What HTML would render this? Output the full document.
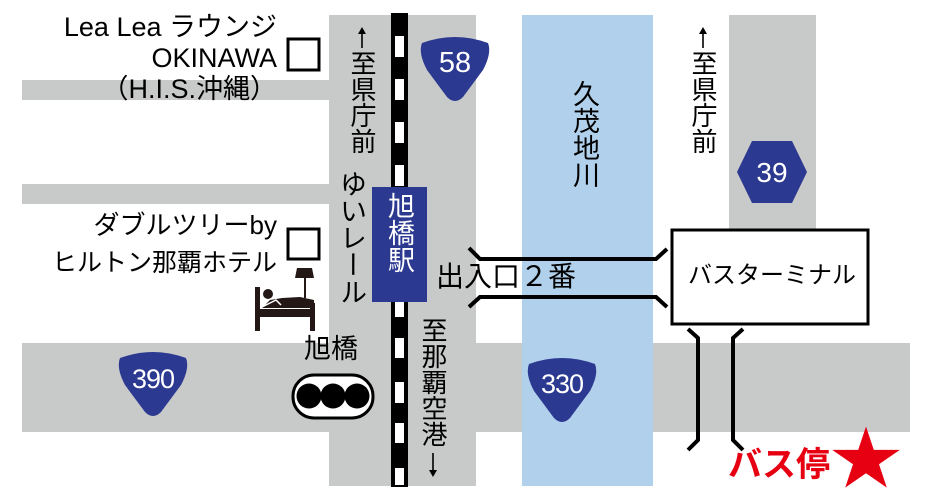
<!DOCTYPE html>
<html><head><meta charset="utf-8"><style>
body{margin:0}
#w{position:relative;width:929px;height:504px;background:#fff;overflow:hidden;font-family:"Liberation Sans","Noto Sans CJK JP",sans-serif;color:#000}
.t{position:absolute;white-space:nowrap;line-height:1}
.v{position:absolute;writing-mode:vertical-rl;line-height:1;white-space:nowrap}
svg{position:absolute;left:0;top:0}
</style></head><body><div id="w">
<svg width="929" height="504">
<defs>
<path id="sh" d="M-33,8 Q0,-4 33,8 Q37,18 28,35 L8,62 Q0,70 -8,62 L-28,35 Q-37,18 -33,8 Z"/>
</defs>
<g fill="#c8c9c9">
<rect x="22" y="80" width="310" height="20"/>
<rect x="22" y="184" width="310" height="20"/>
<rect x="329" y="15" width="147" height="471"/>
<rect x="22" y="343" width="888" height="89"/>
<rect x="729" y="15" width="87" height="214"/>
</g>
<rect x="522" y="15" width="131" height="471" fill="#b1d0eb"/>
<rect x="329" y="343" width="147" height="89" fill="#c8c9c9"/>
<rect x="653" y="343" width="257" height="89" fill="#c8c9c9"/>
<rect x="391" y="13" width="17" height="474" fill="#000"/>
<g fill="#fff">
<rect x="395" y="36" width="9" height="21"/><rect x="395" y="79" width="9" height="21"/>
<rect x="395" y="122" width="9" height="21"/><rect x="395" y="165" width="9" height="21"/>
<rect x="395" y="302" width="9" height="15"/><rect x="395" y="338" width="9" height="20"/>
<rect x="395" y="382" width="9" height="21"/><rect x="395" y="423" width="9" height="20"/>
<rect x="395" y="468" width="9" height="17"/>
</g>
<rect x="372" y="187" width="55" height="115" fill="#2b3990"/>
<g fill="#2b3990">
<use href="#sh" transform="translate(455,35)"/>
<use href="#sh" transform="translate(153,350)"/>
<use href="#sh" transform="translate(562,356)"/>
<polygon points="737,172 752,141 792,141 807,172 792,203 752,203"/>
</g>
<g fill="#fff" font-family="Liberation Sans" text-anchor="middle">
<text x="455" y="72" font-size="29">58</text>
<text x="153" y="388" font-size="27" letter-spacing="-1">390</text>
<text x="562" y="393" font-size="27" letter-spacing="-1">330</text>
<text x="772" y="182" font-size="28">39</text>
</g>
<g fill="none" stroke="#000" stroke-width="3">
<rect x="288" y="39" width="31" height="31"/>
<rect x="288" y="229" width="31" height="30"/>
<rect x="672" y="230" width="196" height="94" fill="#fff"/>
</g>
<g fill="none" stroke="#000" stroke-width="4">
<polyline points="469,248 480,259 656,259 667,249"/>
<polyline points="469,307 480,297 656,297 667,307"/>
<polyline points="688,329 698,338 698,440 688,450"/>
<polyline points="743,329 733,338 733,440 743,450"/>
</g>
<rect x="293" y="375" width="80" height="43" rx="21" fill="#fff" stroke="#000" stroke-width="3"/>
<circle cx="309" cy="396" r="12.5"/><circle cx="333" cy="396" r="12.5"/><circle cx="357" cy="396" r="12.5"/>
<g fill="#231815">
<polygon points="297,268 312,268 314,278 295,278"/>
<rect x="304" y="278" width="2" height="20"/>
<rect x="255" y="287" width="5" height="44"/>
<rect x="255" y="309" width="60" height="8"/>
<rect x="310" y="303" width="5" height="28"/>
<circle cx="268" cy="294" r="5"/>
<path d="M270 300 L282 298 L300 297 L314 300 L314 308 L262 308 Z"/>
</g>
<path d="M262 307 L276 300 L281 305" fill="none" stroke="#fff" stroke-width="1.5"/>
<g stroke="#000" stroke-width="1.6" fill="#000">
<line x1="362" y1="30" x2="362" y2="48"/><polygon points="358,34 366,34 362,27" stroke="none"/>
<line x1="703" y1="30" x2="703" y2="48"/><polygon points="699,34 707,34 703,27" stroke="none"/>
<line x1="433" y1="453" x2="433" y2="474"/><polygon points="429,470 437,470 433,477" stroke="none"/>
</g>
<polygon fill="#e60012" transform="translate(866,459) scale(1.3) translate(-865,-459)" points="865,434 871,452 891,452 875,463 881,481 865,470 849,481 855,463 839,452 859,452"/>
</svg>
<div class="t" style="right:652px;top:14px;font-size:27px">Lea Lea ラウンジ</div>
<div class="t" style="right:652px;top:45px;font-size:27px">OKINAWA</div>
<div class="t" style="right:652px;top:76px;font-size:27px">（H.I.S.沖縄）</div>
<div class="t" style="right:652px;top:212px;font-size:26px">ダブルツリーby</div>
<div class="t" style="right:652px;top:251px;font-size:25px">ヒルトン那覇ホテル</div>
<div class="v" style="left:349px;top:50px;font-size:26px">至県庁前</div>
<div class="v" style="left:690px;top:50px;font-size:26px">至県庁前</div>
<div class="v" style="left:337px;top:170px;font-size:27px">ゆいレール</div>
<div class="v" style="left:385px;top:192px;font-size:27px;color:#fff">旭橋駅</div>
<div class="v" style="left:420px;top:317px;font-size:26px">至那覇空港</div>
<div class="v" style="left:570px;top:80px;font-size:27px">久茂地川</div>
<div class="t" style="left:304px;top:336px;font-size:27px">旭橋</div>
<div class="t" style="left:436px;top:263px;font-size:28px">出入口２番</div>
<div class="t" style="left:688px;top:264px;font-size:24px">バスターミナル</div>
<div class="t" style="left:728px;top:448px;font-size:34px;font-weight:bold;color:#e60012">バス停</div>
</div></body></html>
